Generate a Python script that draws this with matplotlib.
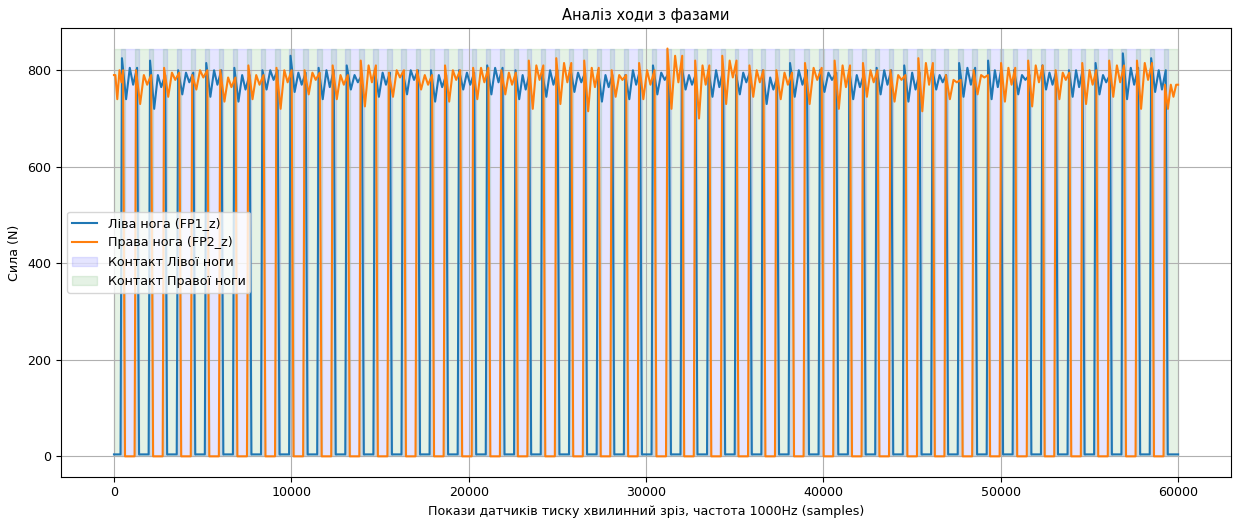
import matplotlib.pyplot as plt
import numpy as np

plt.rcParams['font.size'] = 9.1

N_SAMPLES = 60000
LAST = N_SAMPLES - 1

# stance phases (heel strike -> toe off), samples
left_on = [370, 1954, 3538, 5122, 6706, 8290, 9874, 11458, 13042, 14626, 16210, 17794, 19378,
           20962, 22559, 24062, 25655, 27214, 28750, 30309, 31942, 33439, 34998, 36501, 38037,
           39726, 41379, 42920, 44476, 46072, 47572, 49205, 50668, 52265, 53765, 55264, 56803, 58398]
left_off = [1414, 2998, 4582, 6166, 7750, 9334, 10918, 12502, 14086, 15670, 17254, 18838, 20422,
            22019, 23522, 25115, 26674, 28210, 29769, 31402, 32899, 34458, 35961, 37497, 39186,
            40839, 42380, 43936, 45532, 47032, 48665, 50128, 51725, 53225, 54724, 56263, 57858, 59413]
left_pk1 = [825, 820, 800, 815, 805, 800, 830, 805, 810, 800, 795, 800, 800, 810, 800, 795, 805, 800, 790,
            810, 805, 800, 790, 800, 815, 800, 800, 805, 810, 800, 815, 820, 800, 810, 800, 815, 835, 825]
left_dip = [740, 720, 750, 745, 735, 760, 755, 740, 760, 745, 750, 735, 760, 750, 740, 745, 755, 735, 740,
            750, 760, 745, 750, 730, 745, 755, 740, 750, 735, 760, 745, 740, 750, 760, 745, 750, 740, 755]
left_mid = [770, 765, 775, 770, 760, 780, 770, 765, 775, 770, 780, 765, 770, 775, 760, 770, 775, 765, 770,
            780, 770, 765, 775, 760, 770, 780, 765, 770, 760, 775, 770, 765, 780, 770, 765, 775, 770, 760]
left_pk2 = [805, 790, 795, 800, 790, 800, 795, 800, 790, 795, 800, 790, 795, 805, 790, 800, 795, 790, 800,
            795, 790, 800, 795, 785, 800, 795, 790, 800, 795, 790, 805, 800, 790, 795, 800, 790, 805, 800]

right_on = [0, 1162, 2746, 4330, 5914, 7498, 9082, 10666, 12250, 13834, 15418, 17002, 18586, 20170,
            21760, 23310, 24858, 26434, 27982, 29530, 31126, 32690, 34218, 35750, 37269, 38882, 40552,
            42150, 43698, 45274, 46822, 48388, 49936, 51466, 53015, 54514, 56034, 57600, 59176]
right_off = [622, 2206, 3790, 5374, 6958, 8542, 10126, 11710, 13294, 14878, 16462, 18046, 19630, 21220,
             22770, 24318, 25894, 27442, 28990, 30586, 32150, 33678, 35210, 36729, 38342, 40012, 41610,
             43158, 44734, 46282, 47848, 49396, 50926, 52475, 53974, 55494, 57060, 58636, 59999]
right_pk1 = [790, 800, 805, 790, 800, 810, 805, 800, 810, 820, 795, 800, 810, 805, 800, 820, 825, 820, 800, 815,
             845, 820, 830, 810, 800, 815, 820, 815, 800, 825, 790, 800, 815, 820, 800, 815, 820, 820, 770]
right_dip = [740, 730, 745, 760, 735, 740, 720, 750, 740, 725, 745, 760, 735, 740, 750, 720, 730, 715, 745, 740,
             720, 700, 730, 745, 740, 730, 720, 745, 735, 715, 740, 750, 735, 725, 740, 730, 745, 720, 720]
right_mid = [775, 770, 780, 785, 765, 770, 775, 780, 770, 775, 785, 770, 780, 775, 770, 780, 775, 765, 780, 770,
             775, 770, 785, 775, 770, 780, 765, 775, 780, 770, 775, 785, 770, 775, 780, 770, 775, 780, 745]
right_pk2 = [800, 790, 795, 800, 785, 790, 800, 795, 790, 810, 800, 790, 800, 805, 795, 810, 815, 805, 790, 800,
             830, 810, 820, 800, 795, 805, 810, 800, 790, 815, 780, 790, 805, 810, 795, 800, 810, 815, 770]

left_base = 4
right_base = 0


def force_curve(ons, offs, pk1, dip, mid, pk2, base):
    # polyline: loading peak, mid-stance dip, rebound, small sag, push-off peak
    xs, ys = [], []
    if ons[0] > 0:
        xs.append(0)
        ys.append(base)
    for a, b, p1, d, m, p2 in zip(ons, offs, pk1, dip, mid, pk2):
        dur = b - a
        xs += [a, a + 80, a + 0.3 * dur, a + 0.5 * dur, a + 0.68 * dur, b - 110, b]
        ys += [p1 if a == 0 else base, p1, d, p2, m, p2, p2 if b == LAST else base]
    if offs[-1] < LAST:
        xs.append(LAST)
        ys.append(base)
    return np.array(xs), np.array(ys)


lx, ly = force_curve(left_on, left_off, left_pk1, left_dip, left_mid, left_pk2, left_base)
rx, ry = force_curve(right_on, right_off, right_pk1, right_dip, right_mid, right_pk2, right_base)
top = max(ly.max(), ry.max())

fig, ax = plt.subplots(figsize=(12.4, 5.21), dpi=100)
fig.subplots_adjust(left=0.049, right=0.993, top=0.946, bottom=0.085)

ax.plot(lx, ly, label='Ліва нога (FP1_z)')
ax.plot(rx, ry, label='Права нога (FP2_z)')

for i, (a, b) in enumerate(zip(left_on, left_off)):
    ax.fill_between([a, b], 0, top, color='blue', alpha=0.1,
                    label='Контакт Лівої ноги' if i == 0 else None)
for i, (a, b) in enumerate(zip(right_on, right_off)):
    ax.fill_between([a, b], 0, top, color='green', alpha=0.1,
                    label='Контакт Правої ноги' if i == 0 else None)

ax.set_title('Аналіз ходи з фазами', fontsize=10.5)
ax.set_xlabel('Покази датчиків тиску хвилинний зріз, частота 1000Hz (samples)')
ax.set_ylabel('Сила (N)')
ax.grid(True)
ax.legend(loc='center left')

fig.savefig('out.png')
